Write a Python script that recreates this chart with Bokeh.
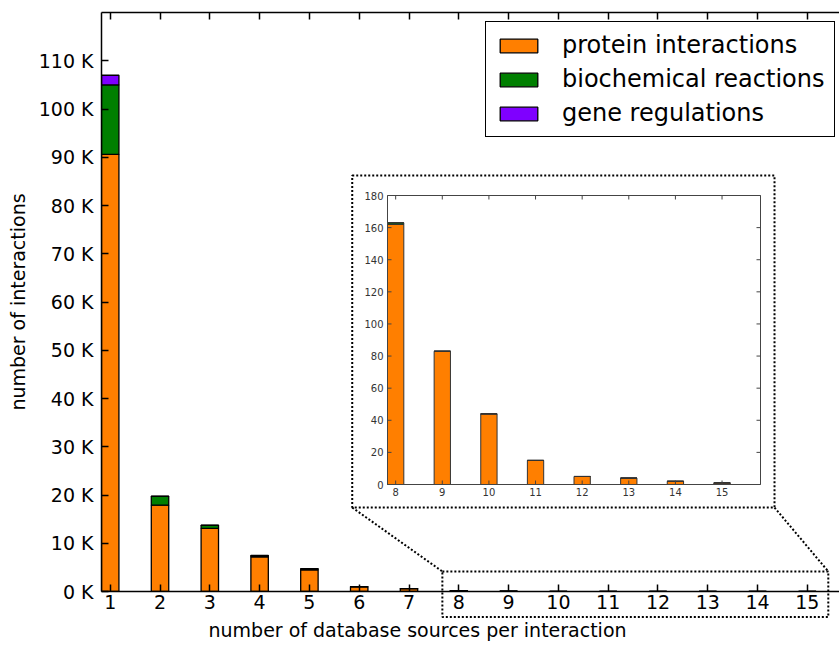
from bokeh.plotting import figure
from bokeh.models import (ColumnDataSource, FixedTicker, LinearAxis, Range1d, Title,
                          CustomJSTickFormatter)
from bokeh.core.properties import value
from bokeh.embed import file_html
from bokeh.resources import INLINE

# ---- data -------------------------------------------------------------
sources = list(range(1, 16))          # number of database sources per interaction
protein = [90600, 17900, 13100, 7200, 4500, 950, 580, 162, 83, 44, 15, 5, 4, 2, 1]
biochemical = [14400, 1800, 600, 250, 200, 50, 20, 1, 0, 0, 0, 0, 0, 0, 0]
gene = [2000, 50, 50, 20, 10, 5, 2, 0, 0, 0, 0, 0, 0, 0, 0]

series_keys = ["protein", "biochemical", "gene"]
series_labels = ["protein interactions", "biochemical reactions", "gene regulations"]
series_colors = ["#ff7f00", "#007f00", "#7f00ff"]

y_ticks = list(range(0, 110001, 10000))
inset_first = 8                        # first category shown in the zoomed inset
inset_y_ticks = list(range(0, 181, 20))

# ---- layout -----------------------------------------------------------
W, H = 839, 645
FONT = "DejaVu Sans"
BAR_W = 0.35
# main frame borders (px)
M_LEFT, M_RIGHT, M_TOP, M_BOTTOM = 101, 0, 12, 54
MAIN_X = (0.825, 15.645)
MAIN_Y = (0, 120000)
# inset frame position on the page (px) and its data window
I_LEFT, I_RIGHT, I_TOP, I_BOTTOM = 387, 760, 195, 484
INSET_X = (7.825, 15.825)
INSET_Y = (0, 180)
INSET_TICK = 4                         # inset tick length, px
# dotted zoom frame and the frame around the inset, in main-axis coordinates
ZOOM_BOX = dict(left=7.67, right=15.42, bottom=-5300, top=4150)
INSET_BOX = dict(left=5.86, right=14.34, bottom=17400, top=86200)

src = ColumnDataSource(dict(x=sources, protein=protein, biochemical=biochemical, gene=gene))
i0 = sources.index(inset_first)
isrc = ColumnDataSource(dict(x=sources[i0:], protein=protein[i0:],
                             biochemical=biochemical[i0:], gene=gene[i0:]))


def style_axis(ax, size, color="black", width=1.5, tick_in=7, show_labels=True, standoff=3):
    ax.axis_line_color = color
    ax.axis_line_width = width
    ax.major_tick_line_color = color
    ax.major_tick_line_width = width
    ax.major_tick_in = tick_in
    ax.major_tick_out = 0
    ax.minor_tick_line_color = None
    ax.major_label_text_font = FONT
    ax.major_label_text_color = color if show_labels else None
    ax.major_label_text_font_size = size if show_labels else "0px"
    ax.major_label_standoff = standoff if show_labels else 0


# ---- main chart -------------------------------------------------------
p = figure(width=W, height=H, x_range=Range1d(*MAIN_X), y_range=Range1d(*MAIN_Y),
           output_backend="svg", toolbar_location=None,
           min_border_left=M_LEFT, min_border_right=M_RIGHT,
           min_border_top=M_TOP, min_border_bottom=M_BOTTOM,
           background_fill_color="white", border_fill_color="white",
           outline_line_color=None)
p.grid.visible = False

p.vbar_stack(series_keys, x="x", width=BAR_W, color=series_colors, line_color="black",
             line_width=1.3, source=src, legend_label=series_labels)

xa = p.xaxis[0]
xa.ticker = FixedTicker(ticks=sources)
style_axis(xa, "19px", standoff=3)

ya = p.yaxis[0]
ya.ticker = FixedTicker(ticks=y_ticks)
ya.formatter = CustomJSTickFormatter(code="return (tick / 1000).toFixed(0) + ' K';")
style_axis(ya, "19px", standoff=8)
ya.axis_label = "number of interactions"
ya.axis_label_text_font = FONT
ya.axis_label_text_font_size = "19px"
ya.axis_label_text_font_style = "normal"
ya.axis_label_text_color = "black"
ya.axis_label_standoff = 7

top_axis = LinearAxis(ticker=FixedTicker(ticks=sources))
style_axis(top_axis, "19px", show_labels=False)
p.add_layout(top_axis, "above")

p.add_layout(Title(text="number of database sources per interaction", align="left",
                   offset=107, standoff=10, text_font=FONT, text_font_size="19px",
                   text_font_style="normal", text_color="black"), "below")

lg = p.legend[0]
lg.location = (384, 454)
lg.margin = 0
lg.padding = 9
lg.spacing = 6
lg.glyph_width = 47
lg.glyph_height = 17
lg.label_height = 26
lg.label_standoff = 20
lg.label_text_font = FONT
lg.label_text_font_size = "24px"
lg.label_text_color = "black"
lg.border_line_color = "black"
lg.border_line_alpha = 1.0
lg.border_line_width = 1.5
lg.background_fill_alpha = 1.0

# ---- inset (categories 8..15) on its own pair of ranges --------------------
sx = (I_RIGHT - I_LEFT) / (INSET_X[1] - INSET_X[0])     # px per inset x unit
sy = (I_BOTTOM - I_TOP) / (INSET_Y[1] - INSET_Y[0])     # px per inset y unit
p.extra_x_ranges = {"ix": Range1d(INSET_X[0] - (I_LEFT - M_LEFT) / sx,
                                  INSET_X[1] + (W - M_RIGHT - I_RIGHT) / sx)}
p.extra_y_ranges = {"iy": Range1d(INSET_Y[0] - (H - M_BOTTOM - I_BOTTOM) / sy,
                                  INSET_Y[1] + (I_TOP - M_TOP) / sy)}
inr = dict(x_range_name="ix", y_range_name="iy")
ICOL = "#444444"

p.quad(left=[INSET_X[0]], right=[INSET_X[1]], bottom=[INSET_Y[0]], top=[INSET_Y[1]],
       fill_color="white", line_color=None, **inr)
p.vbar_stack(series_keys, x="x", width=BAR_W, color=series_colors, line_color="#333333",
             line_width=1, source=isrc, **inr)
p.quad(left=[INSET_X[0]], right=[INSET_X[1]], bottom=[INSET_Y[0]], top=[INSET_Y[1]],
       fill_color=None, line_color=ICOL, line_width=1, **inr)

ix_ticks = sources[i0:]
tx, ty = INSET_TICK / sx, INSET_TICK / sy
# inward ticks on all four sides of the inset frame
p.segment(x0=ix_ticks, y0=[INSET_Y[0]] * len(ix_ticks), x1=ix_ticks,
          y1=[INSET_Y[0] + ty] * len(ix_ticks), line_color=ICOL, **inr)
p.segment(x0=ix_ticks, y0=[INSET_Y[1]] * len(ix_ticks), x1=ix_ticks,
          y1=[INSET_Y[1] - ty] * len(ix_ticks), line_color=ICOL, **inr)
p.segment(x0=[INSET_X[0]] * len(inset_y_ticks), y0=inset_y_ticks,
          x1=[INSET_X[0] + tx] * len(inset_y_ticks), y1=inset_y_ticks, line_color=ICOL, **inr)
p.segment(x0=[INSET_X[1]] * len(inset_y_ticks), y0=inset_y_ticks,
          x1=[INSET_X[1] - tx] * len(inset_y_ticks), y1=inset_y_ticks, line_color=ICOL, **inr)
p.text(x=ix_ticks, y=[INSET_Y[0]] * len(ix_ticks), text=[str(t) for t in ix_ticks],
       text_align="center", text_baseline="top", y_offset=3,
       text_font=value(FONT), text_font_size=value("10px"), text_color="#333333", **inr)
p.text(x=[INSET_X[0]] * len(inset_y_ticks), y=inset_y_ticks,
       text=[str(t) for t in inset_y_ticks], text_align="right", text_baseline="middle",
       x_offset=-4, text_font=value(FONT), text_font_size=value("10px"),
       text_color="#333333", **inr)

# ---- dotted zoom frame and connectors ---------------------------------------
dot = dict(line_color="black", line_width=2, line_dash="2 2", level="overlay")
for b in (ZOOM_BOX, INSET_BOX):
    p.quad(left=[b["left"]], right=[b["right"]], bottom=[b["bottom"]], top=[b["top"]],
           fill_color=None, **dot)
p.segment(x0=[INSET_BOX["left"], INSET_BOX["right"]],
          y0=[INSET_BOX["bottom"], INSET_BOX["bottom"]],
          x1=[ZOOM_BOX["left"], ZOOM_BOX["right"]],
          y1=[ZOOM_BOX["top"], ZOOM_BOX["top"]], **dot)

open("out.html", "w").write(file_html(p, INLINE))
